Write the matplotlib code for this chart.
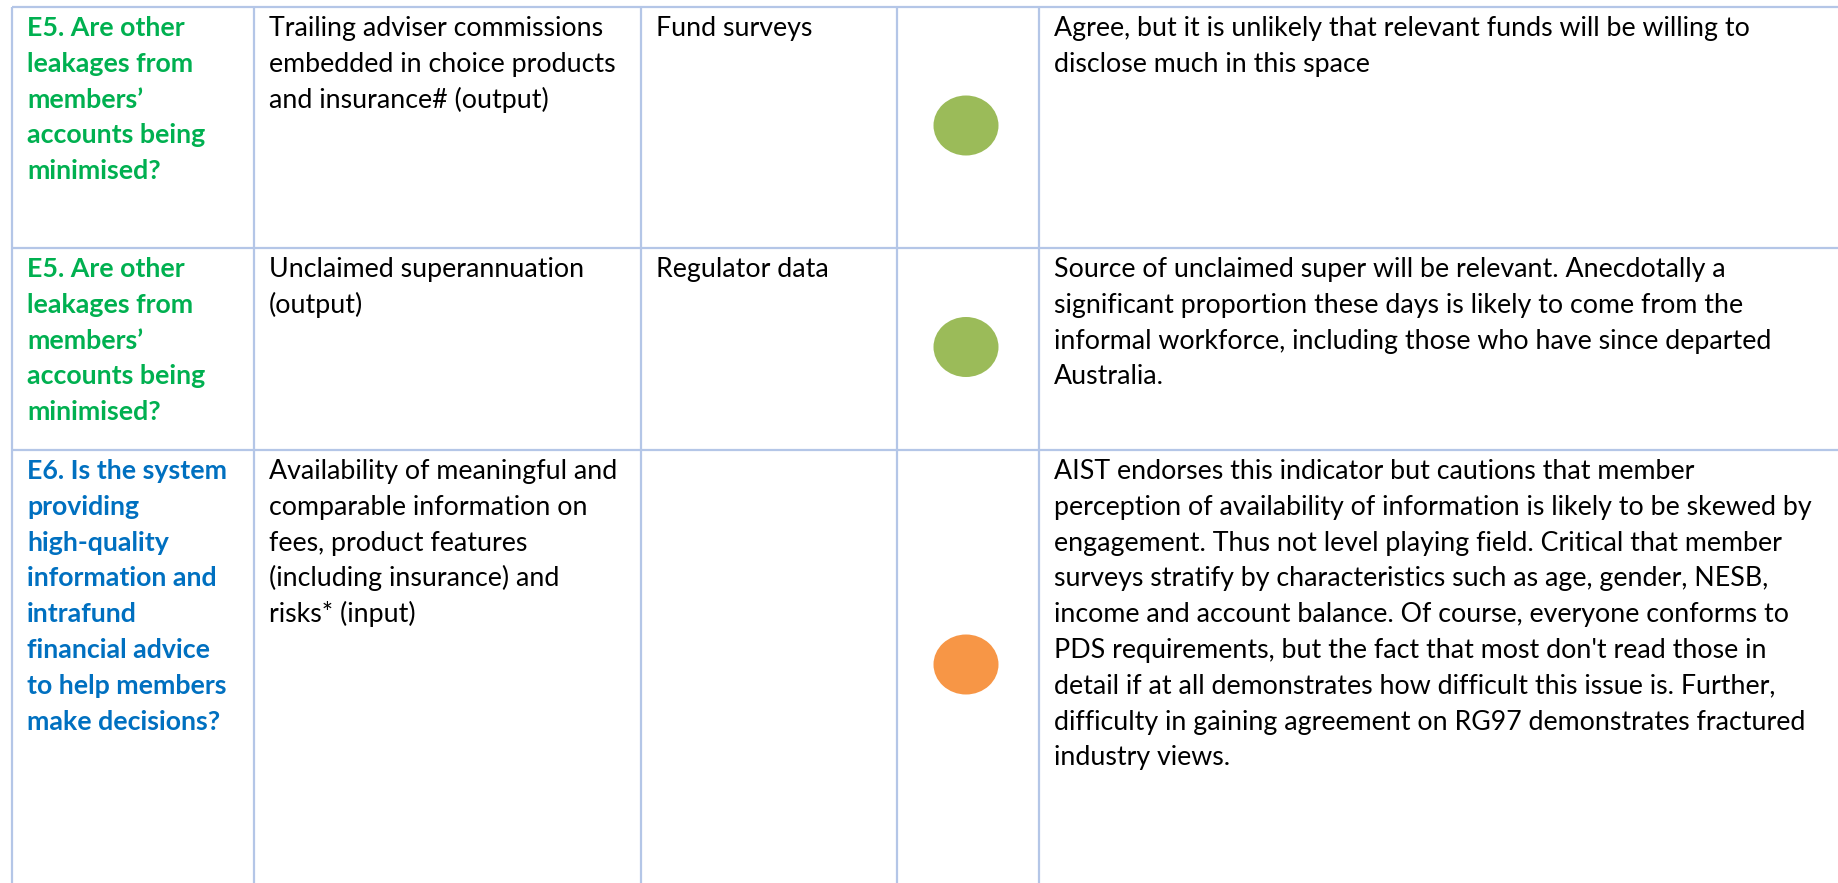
import matplotlib
matplotlib.use('Agg')
import matplotlib.pyplot as plt
from matplotlib.patches import Ellipse
from matplotlib import font_manager

# table content
questions = [
    ['E5. Are other', 'leakages from', 'members’', 'accounts being', 'minimised?'],
    ['E5. Are other', 'leakages from', 'members’', 'accounts being', 'minimised?'],
    ['E6. Is the system', 'providing', 'high-quality', 'information and', 'intrafund',
     'financial advice', 'to help members', 'make decisions?'],
]
question_colors = ['#00B050', '#00B050', '#0070C0']

indicators = [
    ['Trailing adviser commissions', 'embedded in choice products', 'and insurance# (output)'],
    ['Unclaimed superannuation', '(output)'],
    ['Availability of meaningful and', 'comparable information on', 'fees, product features',
     '(including insurance) and', 'risks* (input)'],
]

sources = [['Fund surveys'], ['Regulator data'], []]

ratings = ['#9BBB59', '#9BBB59', '#F79646']  # green / green / orange dot

comments = [
    ['Agree, but it is unlikely that relevant funds will be willing to',
     'disclose much in this space'],
    ['Source of unclaimed super will be relevant. Anecdotally a',
     'significant proportion these days is likely to come from the',
     'informal workforce, including those who have since departed',
     'Australia.'],
    ['AIST endorses this indicator but cautions that member',
     'perception of availability of information is likely to be skewed by',
     'engagement. Thus not level playing field. Critical that member',
     'surveys stratify by characteristics such as age, gender, NESB,',
     'income and account balance. Of course, everyone conforms to',
     "PDS requirements, but the fact that most don't read those in",
     'detail if at all demonstrates how difficult this issue is. Further,',
     'difficulty in gaining agreement on RG97 demonstrates fractured',
     'industry views.'],
]

# layout in pixels
W, H = 1838, 883
col_x = [12, 254, 641, 897, 1039]
row_y = [7, 248, 450, H]
line_h = 35.8
grid_color = '#B4C6E7'

names = {f.name for f in font_manager.fontManager.ttflist}
font = 'Lato' if 'Lato' in names else 'DejaVu Sans'
fs = 19.3

fig = plt.figure(figsize=(W / 100, H / 100), dpi=100)
ax = fig.add_axes([0, 0, 1, 1])
ax.set_xlim(0, W)
ax.set_ylim(H, 0)
ax.axis('off')

# grid lines
for x in col_x:
    ax.plot([x, x], [row_y[0], H], color=grid_color, lw=1.6, solid_capstyle='butt')
for y in row_y[:-1]:
    ax.plot([col_x[0], W], [y, y], color=grid_color, lw=1.6, solid_capstyle='butt')


def put_lines(x, y0, lines, **kw):
    for i, s in enumerate(lines):
        ax.text(x, y0 + i * line_h, s, va='baseline', ha='left',
                fontsize=fs, family=font, **kw)


for r in range(3):
    base = row_y[r] + 29
    put_lines(col_x[0] + 15, base, questions[r], color=question_colors[r], fontweight='bold')
    put_lines(col_x[1] + 15, base, indicators[r], color='black')
    put_lines(col_x[2] + 15, base, sources[r], color='black')
    put_lines(col_x[4] + 15, base, comments[r], color='black')
    cy = (row_y[r] + row_y[r + 1]) / 2 - 2
    ax.add_patch(Ellipse((966, cy), 65, 60, color=ratings[r], lw=0))

fig.savefig('out.png', dpi=100, facecolor='white')
